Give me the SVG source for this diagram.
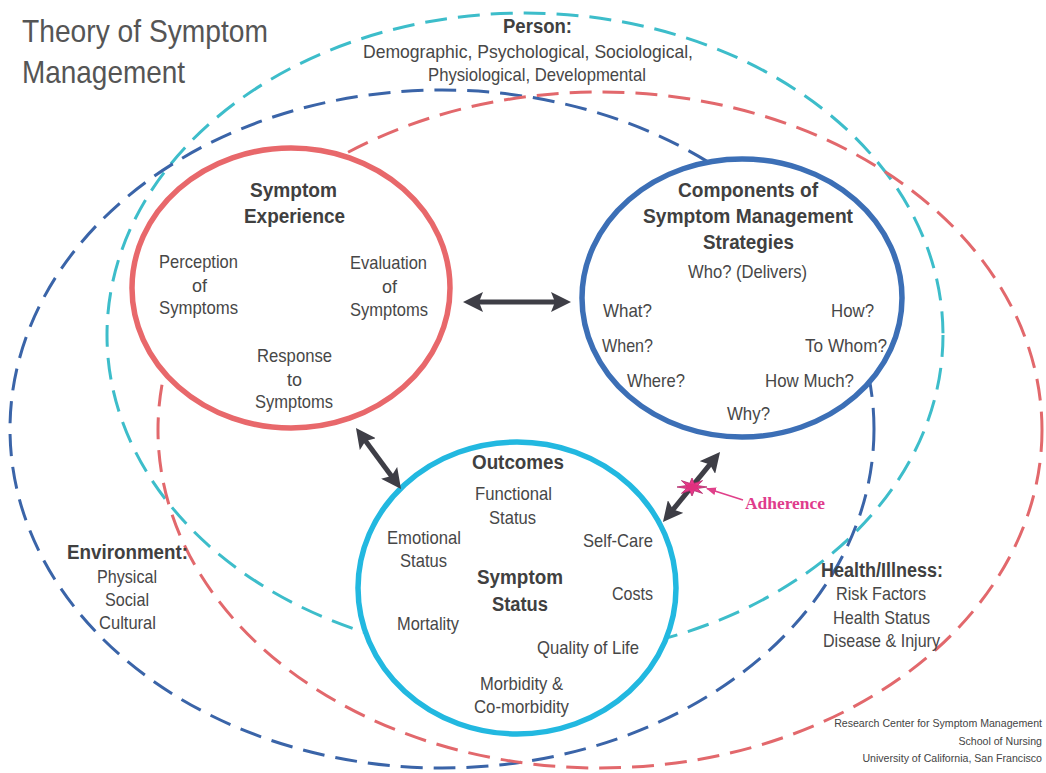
<svg xmlns="http://www.w3.org/2000/svg" width="1046" height="773" viewBox="0 0 1046 773">
<defs>
<style>
.t{font-family:"Liberation Sans Narrow","Liberation Sans",Arial,sans-serif;font-size:19px;fill:#474747;text-anchor:middle}
.b{font-family:"Liberation Sans Narrow","Liberation Sans",Arial,sans-serif;font-size:20px;font-weight:bold;fill:#404040;text-anchor:middle}
.dash{fill:none;stroke-width:3;stroke-dasharray:22 11}
.circ{fill:#ffffff;stroke-width:5.5}
.arr{stroke:#3e3e46;stroke-width:5;fill:none}
</style>
<marker id="head" markerUnits="userSpaceOnUse" viewBox="0 0 20 20" markerWidth="20" markerHeight="20" refX="6" refY="10" orient="auto-start-reverse">
<path d="M0,0 L20,10 L0,20 L4,10 z" fill="#3e3e46"/>
</marker>
<marker id="pinkhead" markerUnits="userSpaceOnUse" viewBox="0 0 10 8" markerWidth="10" markerHeight="8" refX="9" refY="4" orient="auto">
<path d="M0,0 L10,4 L0,8 z" fill="#e0408a"/>
</marker>
</defs>
<rect width="1046" height="773" fill="#ffffff"/>

<g id="person">
<ellipse class="dash" cx="525" cy="335" rx="418" ry="322" stroke="#3dbdca"/>
</g>
<g id="environment">
<ellipse class="dash" cx="442" cy="429" rx="432" ry="339" stroke="#3a64a8"/>
</g>
<g id="health-illness">
<ellipse class="dash" cx="600" cy="430" rx="442" ry="338" stroke="#e2686c"/>
</g>

<g id="person-label">
<text class="b" x="537.5" y="33" font-size="21" textLength="69" lengthAdjust="spacingAndGlyphs">Person:</text>
<text class="t" x="528" y="58" font-size="21" textLength="330" lengthAdjust="spacingAndGlyphs">Demographic, Psychological, Sociological,</text>
<text class="t" x="537" y="81" font-size="21" textLength="218" lengthAdjust="spacingAndGlyphs">Physiological, Developmental</text>
</g>
<g id="environment-label">
<text class="b" x="127.5" y="559" font-size="22" textLength="121" lengthAdjust="spacingAndGlyphs">Environment:</text>
<text class="t" x="127" y="583" textLength="60" lengthAdjust="spacingAndGlyphs">Physical</text>
<text class="t" x="127" y="606" textLength="44" lengthAdjust="spacingAndGlyphs">Social</text>
<text class="t" x="127.5" y="629" textLength="57" lengthAdjust="spacingAndGlyphs">Cultural</text>
</g>
<g id="health-illness-label">
<text class="b" x="882" y="577" font-size="22" textLength="122" lengthAdjust="spacingAndGlyphs">Health/Illness:</text>
<text class="t" x="881" y="600" textLength="90" lengthAdjust="spacingAndGlyphs">Risk Factors</text>
<text class="t" x="881.5" y="624" textLength="97" lengthAdjust="spacingAndGlyphs">Health Status</text>
<text class="t" x="881.5" y="647" textLength="117" lengthAdjust="spacingAndGlyphs">Disease &amp; Injury</text>
</g>

<g id="symptom-experience">
<ellipse class="circ" cx="291" cy="288" rx="159" ry="140" stroke="#e8686b"/>
<text class="b" x="293.5" y="197" textLength="87" lengthAdjust="spacingAndGlyphs">Symptom</text>
<text class="b" x="294.5" y="223" textLength="101" lengthAdjust="spacingAndGlyphs">Experience</text>
<text class="t" x="198.5" y="268" textLength="79" lengthAdjust="spacingAndGlyphs">Perception</text>
<text class="t" x="199.5" y="292" textLength="15" lengthAdjust="spacingAndGlyphs">of</text>
<text class="t" x="198.5" y="314" textLength="79" lengthAdjust="spacingAndGlyphs">Symptoms</text>
<text class="t" x="388.5" y="269" textLength="77" lengthAdjust="spacingAndGlyphs">Evaluation</text>
<text class="t" x="389.5" y="293" textLength="15" lengthAdjust="spacingAndGlyphs">of</text>
<text class="t" x="389" y="316" textLength="78" lengthAdjust="spacingAndGlyphs">Symptoms</text>
<text class="t" x="294.5" y="362" textLength="75" lengthAdjust="spacingAndGlyphs">Response</text>
<text class="t" x="294.5" y="386" textLength="15" lengthAdjust="spacingAndGlyphs">to</text>
<text class="t" x="294" y="408" textLength="78" lengthAdjust="spacingAndGlyphs">Symptoms</text>
</g>

<g id="management-strategies">
<ellipse class="circ" cx="742" cy="298" rx="160" ry="139" stroke="#3c6fb6"/>
<text class="b" x="748" y="197" textLength="140" lengthAdjust="spacingAndGlyphs">Components of</text>
<text class="b" x="748" y="223" textLength="210" lengthAdjust="spacingAndGlyphs">Symptom Management</text>
<text class="b" x="748.5" y="249" textLength="91" lengthAdjust="spacingAndGlyphs">Strategies</text>
<text class="t" x="747.5" y="278" textLength="119" lengthAdjust="spacingAndGlyphs">Who? (Delivers)</text>
<text class="t" x="627.5" y="317" textLength="49" lengthAdjust="spacingAndGlyphs">What?</text>
<text class="t" x="852.5" y="317" textLength="43" lengthAdjust="spacingAndGlyphs">How?</text>
<text class="t" x="627.5" y="352" textLength="51" lengthAdjust="spacingAndGlyphs">When?</text>
<text class="t" x="846" y="352" textLength="82" lengthAdjust="spacingAndGlyphs">To Whom?</text>
<text class="t" x="656" y="387" textLength="58" lengthAdjust="spacingAndGlyphs">Where?</text>
<text class="t" x="809.5" y="387" textLength="89" lengthAdjust="spacingAndGlyphs">How Much?</text>
<text class="t" x="748.5" y="420" textLength="43" lengthAdjust="spacingAndGlyphs">Why?</text>
</g>

<g id="outcomes">
<ellipse class="circ" cx="517" cy="588" rx="159" ry="146" stroke="#22b8e0"/>
<text class="b" x="518" y="469" textLength="92" lengthAdjust="spacingAndGlyphs">Outcomes</text>
<text class="t" x="513.5" y="500" textLength="77" lengthAdjust="spacingAndGlyphs">Functional</text>
<text class="t" x="512.5" y="524" textLength="47" lengthAdjust="spacingAndGlyphs">Status</text>
<text class="t" x="424" y="544" textLength="74" lengthAdjust="spacingAndGlyphs">Emotional</text>
<text class="t" x="423.5" y="567" textLength="47" lengthAdjust="spacingAndGlyphs">Status</text>
<text class="t" x="618" y="547" textLength="70" lengthAdjust="spacingAndGlyphs">Self-Care</text>
<text class="b" x="520" y="584" textLength="86" lengthAdjust="spacingAndGlyphs">Symptom</text>
<text class="b" x="520" y="611" textLength="56" lengthAdjust="spacingAndGlyphs">Status</text>
<text class="t" x="632.5" y="600" textLength="41" lengthAdjust="spacingAndGlyphs">Costs</text>
<text class="t" x="428" y="630" textLength="62" lengthAdjust="spacingAndGlyphs">Mortality</text>
<text class="t" x="588" y="654" textLength="102" lengthAdjust="spacingAndGlyphs">Quality of Life</text>
<text class="t" x="521.5" y="690" textLength="83" lengthAdjust="spacingAndGlyphs">Morbidity &amp;</text>
<text class="t" x="521.5" y="713" textLength="95" lengthAdjust="spacingAndGlyphs">Co-morbidity</text>
</g>

<g id="connectors">
<line class="arr" x1="477" y1="302" x2="557" y2="302" marker-start="url(#head)" marker-end="url(#head)"/>
<line class="arr" x1="364.3" y1="439.3" x2="392.7" y2="477.7" marker-start="url(#head)" marker-end="url(#head)"/>
<line class="arr" x1="671.8" y1="511.1" x2="711.2" y2="462.9" marker-start="url(#head)" marker-end="url(#head)"/>
<polygon points="707,487 697.5,488.5 702.6,493.4 694.3,490.7 692,496 689.7,490.7 681.4,493.4 686.5,488.5 677,487 686.5,485.5 681.4,480.6 689.7,483.3 692,478 694.3,483.3 702.6,480.6 697.5,485.5" fill="#e8388a" stroke="#b02a6a" stroke-width="0.8"/>
<ellipse cx="692" cy="487" rx="6" ry="3.5" fill="#e0307e"/>
<line x1="743" y1="500" x2="707" y2="488.5" stroke="#e0408a" stroke-width="1.6" marker-end="url(#pinkhead)"/>
<text x="745" y="509" font-family="'Liberation Serif','Times New Roman',serif" font-size="17" font-weight="bold" fill="#e03c8c" textLength="80" lengthAdjust="spacingAndGlyphs">Adherence</text>
</g>

<g id="title">
<text x="22" y="42" font-family="'Liberation Sans Narrow','Liberation Sans',Arial,sans-serif" font-size="32" fill="#555555" textLength="246" lengthAdjust="spacingAndGlyphs">Theory of Symptom</text>
<text x="22" y="83" font-family="'Liberation Sans Narrow','Liberation Sans',Arial,sans-serif" font-size="32" fill="#555555" textLength="163" lengthAdjust="spacingAndGlyphs">Management</text>
</g>

<g id="footer" font-family="'Liberation Sans',Arial,sans-serif" font-size="10.6" fill="#444444" text-anchor="end">
<text x="1042" y="727">Research Center for Symptom Management</text>
<text x="1042" y="745">School of Nursing</text>
<text x="1042" y="762">University of California, San Francisco</text>
</g>
</svg>
